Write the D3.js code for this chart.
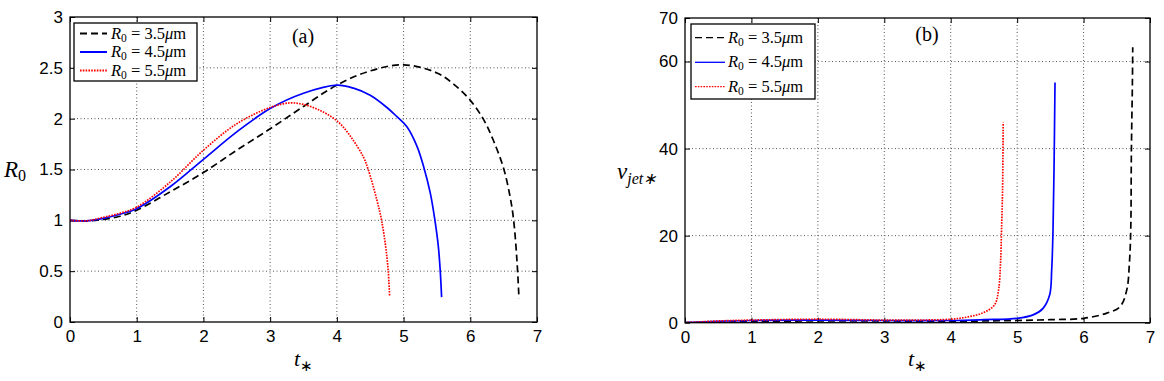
<!DOCTYPE html>
<html><head><meta charset="utf-8">
<script src="https://cdn.jsdelivr.net/npm/d3@7"></script>
<style>body{margin:0;background:#fff}svg{display:block}</style>
</head><body><svg id="c" width="1164" height="381"></svg>
<script>
// ---------- data ----------
const xTicks = [0,1,2,3,4,5,6,7];
const yTicksA = [0,0.5,1,1.5,2,2.5,3];
const yTicksB = [0,20,40,60,70];
const legendLabels = ["3.5", "4.5", "5.5"];

// panel (a): R0 vs t*
const tA35 = [0,0.25,0.5,0.75,1,1.5,2,2.5,3,3.5,4,4.5,5,5.5,5.75,6,6.2,6.35,6.5,6.6,6.65,6.7,6.73];
const rA35 = [1,0.995,1.01,1.04,1.1,1.28,1.47,1.69,1.9,2.12,2.33,2.47,2.53,2.45,2.34,2.18,1.99,1.78,1.51,1.22,1.0,0.6,0.23];
const tA45 = [0,0.25,0.5,0.75,1,1.5,2,2.5,3,3.5,4,4.25,4.5,4.75,4.9,5.05,5.2,5.3,5.4,5.47,5.52,5.55,5.57];
const rA45 = [1,0.995,1.02,1.06,1.115,1.33,1.6,1.87,2.1,2.25,2.33,2.30,2.23,2.11,2.02,1.92,1.73,1.53,1.27,1.0,0.75,0.5,0.245];
const tA55 = [0,0.25,0.5,0.75,1,1.5,2,2.5,3,3.3,3.5,3.75,4,4.2,4.4,4.47,4.6,4.67,4.73,4.77,4.79];
const rA55 = [1,0.995,1.03,1.07,1.13,1.375,1.69,1.95,2.11,2.155,2.14,2.08,1.98,1.83,1.62,1.5,1.2,1.0,0.75,0.5,0.26];

// panel (b): v_jet* vs t*
const tB35 = [0,0.5,1,2,3,4,4.5,5,5.5,6,6.35,6.55,6.65,6.69,6.71,6.72,6.735,6.74];
const vB35 = [0,0.1,0.3,0.4,0.4,0.3,0.4,0.5,0.7,1.0,2.2,3.7,7.5,13.7,21.3,39.7,55,63.3];
const tB45 = [0,0.5,1,2,3,4,4.5,5,5.24,5.39,5.49,5.52,5.54,5.555,5.57];
const vB45 = [0,0.3,0.5,0.6,0.5,0.5,0.7,1.0,1.8,3.3,6.4,12.1,21.3,35,55.2];
const tB55 = [0,0.5,1,2,3,3.5,4,4.25,4.49,4.66,4.72,4.75,4.765,4.78,4.79];
const vB55 = [0,0.4,0.6,0.8,0.6,0.6,0.8,1.3,2.3,4.1,7.5,13.7,21.3,30,46];

// ---------- styles ----------
const styles = [
  {color:"#000", dash:"7,4", width:1.7},
  {color:"#0000ff", dash:null, width:1.7},
  {color:"#ff0000", dash:"1.6,1.2", width:1.7}
];
const serif = "Liberation Serif, Times New Roman, serif";

const svg = d3.select("#c");
svg.append("rect").attr("width",1164).attr("height",381).attr("fill","#fff");

function zip(t,v){ return t.map((d,i)=>[d,v[i]]); }

function panel(cfg){
  const g = svg.append("g");
  const x = d3.scaleLinear().domain([0,7]).range([cfg.x0,cfg.x1]);
  const y = d3.scaleLinear().domain(cfg.yDom).range([cfg.y1,cfg.y0]);
  const id = "clip"+cfg.name;
  svg.append("clipPath").attr("id",id).append("rect")
    .attr("x",cfg.x0).attr("y",cfg.y0).attr("width",cfg.x1-cfg.x0).attr("height",cfg.y1-cfg.y0);

  // grid
  const grid = g.append("g").attr("stroke","#555").attr("stroke-width",1).attr("stroke-dasharray","1,2.5");
  xTicks.slice(1,-1).forEach(t=>grid.append("line").attr("x1",x(t)).attr("x2",x(t)).attr("y1",cfg.y0).attr("y2",cfg.y1));
  cfg.yTicks.filter(v=>v>cfg.yDom[0] && v<cfg.yDom[1]).forEach(v=>grid.append("line").attr("y1",y(v)).attr("y2",y(v)).attr("x1",cfg.x0).attr("x2",cfg.x1));

  // axes via d3
  const fmt = d=>String(d);
  const ax = (gen,tr)=>{ const a = g.append("g").attr("transform",tr).call(gen);
      a.select(".domain").remove(); a.selectAll("line").attr("stroke","#000").attr("stroke-width",1);
      a.selectAll("text").attr("font-family","Liberation Sans, Arial, sans-serif").attr("font-size",17).attr("fill","#000");
      return a; };
  ax(d3.axisBottom(x).tickValues(xTicks).tickFormat(fmt).tickSizeInner(-5).tickPadding(8),`translate(0,${cfg.y1})`);
  ax(d3.axisTop(x).tickValues(xTicks).tickFormat("").tickSizeInner(-5),`translate(0,${cfg.y0})`);
  ax(d3.axisLeft(y).tickValues(cfg.yTicks).tickFormat(fmt).tickSizeInner(-5).tickPadding(7),`translate(${cfg.x0},0)`);
  ax(d3.axisRight(y).tickValues(cfg.yTicks).tickFormat("").tickSizeInner(-5),`translate(${cfg.x1},0)`);

  // curves
  const line = d3.line().x(d=>x(d[0])).y(d=>y(d[1])).curve(d3.curveCatmullRom.alpha(0.5));
  const cg = g.append("g").attr("clip-path",`url(#${id})`);
  cfg.series.forEach((s,i)=>{
    const st = styles[i];
    cg.append("path").attr("d",line(s)).attr("fill","none").attr("stroke",st.color)
      .attr("stroke-width",st.width).attr("stroke-dasharray",st.dash);
  });

  // frame
  g.append("rect").attr("x",cfg.x0).attr("y",cfg.y0).attr("width",cfg.x1-cfg.x0).attr("height",cfg.y1-cfg.y0)
    .attr("fill","none").attr("stroke","#000").attr("stroke-width",1.3);

  // legend
  const L = cfg.legend;
  const lg = g.append("g");
  lg.append("rect").attr("x",L.x).attr("y",L.y).attr("width",L.w).attr("height",L.h)
    .attr("fill","#fff").attr("stroke","#000").attr("stroke-width",1.3);
  legendLabels.forEach((lab,i)=>{
    const yy = L.rows[i], st = styles[i];
    lg.append("line").attr("x1",L.lx0).attr("x2",L.lx1).attr("y1",yy).attr("y2",yy)
      .attr("stroke",st.color).attr("stroke-width",L.lw).attr("stroke-dasharray",st.dash);
    const t = lg.append("text").attr("x",L.tx).attr("y",yy+5).attr("font-family",serif)
      .attr("font-size",16.5).attr("fill","#000");
    t.append("tspan").attr("font-style","italic").text("R");
    t.append("tspan").attr("font-size",11.5).attr("dy",3).text("0");
    t.append("tspan").attr("dy",-3).text(" = " + lab);
    t.append("tspan").attr("font-style","italic").text("μ");
    t.append("tspan").text("m");
  });

  // panel tag
  g.append("text").attr("x",cfg.tag.x).attr("y",cfg.tag.y).attr("text-anchor","middle")
    .attr("font-family",serif).attr("font-size",20).text(cfg.tag.text);

  // x label
  const xl = g.append("text").attr("x",(cfg.x0+cfg.x1)/2).attr("y",366).attr("text-anchor","middle")
    .attr("font-family",serif).attr("font-size",22);
  xl.append("tspan").attr("font-style","italic").text("t");
  xl.append("tspan").attr("font-size",15).attr("dy",5).text("∗");
  return {x,y};
}

panel({name:"a", x0:70, x1:537, y0:17, y1:322, yDom:[0,3], yTicks:yTicksA,
  series:[zip(tA35,rA35), zip(tA45,rA45), zip(tA55,rA55)],
  legend:{x:74,y:23,w:123,h:58,rows:[33.5,52,70.5],lx0:80,lx1:107,tx:111,lw:2},
  tag:{x:303,y:43,text:"(a)"}});

panel({name:"b", x0:685, x1:1150, y0:18, y1:322.7, yDom:[0,70], yTicks:yTicksB,
  series:[zip(tB35,vB35), zip(tB45,vB45), zip(tB55,vB55)],
  legend:{x:691,y:24,w:124,h:75,rows:[37.7,62.3,86.7],lx0:695,lx1:725,tx:728,lw:1.3},
  tag:{x:927,y:41,text:"(b)"}});

// y labels
const yl1 = svg.append("text").attr("x",4).attr("y",177).attr("font-family",serif).attr("font-size",23);
yl1.append("tspan").attr("font-style","italic").text("R");
yl1.append("tspan").attr("font-size",16).attr("dy",4).text("0");
const yl2 = svg.append("text").attr("x",617).attr("y",179).attr("font-family",serif).attr("font-size",23);
yl2.append("tspan").attr("font-style","italic").text("v");
yl2.append("tspan").attr("font-size",16).attr("font-style","italic").attr("dy",5).text("jet∗");
</script></body></html>
